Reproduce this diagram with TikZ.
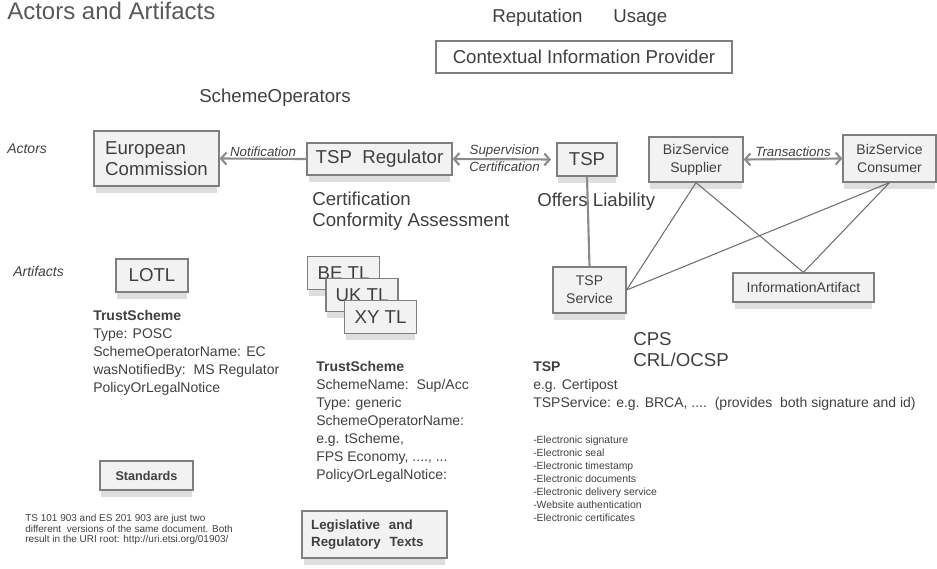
\documentclass[tikz,border=0pt]{standalone}
\usepackage{fontspec}
\setmainfont{Liberation Sans}
\usetikzlibrary{arrows.meta, shadows}

\definecolor{boxfill}{HTML}{F2F2F2}
\definecolor{boxline}{HTML}{7F7F7F}
\definecolor{txt}{HTML}{404040}
\definecolor{flowline}{HTML}{8C8C8C}

\tikzset{
  actor/.style={draw=boxline, fill=boxfill, line width=0.9pt, inner sep=0pt, text=txt,
    drop shadow={shadow xshift=0pt, shadow yshift=-6pt, shadow scale=0.97, fill=black, opacity=0.13}},
  flow/.style={draw=flowline, line width=1.6pt, >={Straight Barb[length=4pt, width=9pt]}},
  link/.style={draw=flowline!80!black, line width=0.8pt},
  relabel/.style={font=\fontsize{10}{12}\selectfont\itshape, text=txt, inner sep=1pt},
  rowlabel/.style={anchor=base west, inner sep=0pt, font=\fontsize{10.5}{12}\selectfont\itshape, text=txt},
  bigtext/.style={font=\fontsize{14}{15.75}\selectfont, text=txt},
  smalltext/.style={font=\fontsize{10.5}{13.5}\selectfont, text=txt},
  note/.style={anchor=north west, inner sep=0pt, align=left},
}

\begin{document}
\begin{tikzpicture}[x=0.75pt, y=-0.75pt]
  \useasboundingbox (0,0) rectangle (937,568);

  % Title and header
  \node[anchor=base west, inner sep=0pt, text=black!65, font=\fontsize{18}{20}\selectfont] (title) at (7,19) {Actors and Artifacts};
  \node[anchor=base west, inner sep=0pt, bigtext] (reputation) at (492,22) {Reputation};
  \node[anchor=base west, inner sep=0pt, bigtext] (usage) at (613,22) {Usage};
  \node[draw=boxline, line width=0.9pt, bigtext, minimum width=222pt, minimum height=24pt] (cip) at (584,57) {Contextual Information Provider};
  \node[anchor=base west, inner sep=0pt, bigtext] (schemeops) at (199,102) {SchemeOperators};

  % Row labels
  \node[rowlabel] (actors) at (7,153) {Actors};
  \node[rowlabel] (artifacts) at (13,276) {Artifacts};

  % Actors
  \node[actor, bigtext, align=left, minimum width=93.75pt, minimum height=41.25pt] (ec) at (156.5,158.5) {European\\Commission};
  \node[actor, bigtext, minimum width=108.75pt, minimum height=24pt] (reg) at (379.5,159) {TSP\ \ Regulator};
  \node[actor, bigtext, minimum width=45pt, minimum height=24.75pt] (tsp) at (587,159.5) {TSP};
  \node[actor, smalltext, align=center, minimum width=70.5pt, minimum height=33.75pt] (supplier) at (696,159.5) {BizService\\Supplier};
  \node[actor, smalltext, align=center, minimum width=69.75pt, minimum height=35.25pt] (consumer) at (889.5,158.5) {BizService\\Consumer};
  \node[actor, smalltext, align=center, minimum width=54.75pt, minimum height=34.5pt] (tspsvc) at (589.5,290) {TSP\\Service};
  \node[actor, smalltext, minimum width=105.75pt, minimum height=21.75pt] (infoart) at (803.5,287.5) {InformationArtifact};

  % Relations between actors
  \draw[flow, ->] (reg.west) -- node[relabel, above] (notif) {Notification} (ec.east);
  \draw[flow, <->, shorten >=4pt] (reg.east) -- node[relabel, above] (superv) {Supervision}
    node[relabel, below] (certif) {Certification} (tsp.west);
  \draw[flow, <->] (supplier.east) -- node[relabel, above] (trans) {Transactions} (consumer.west);
  \draw[flow] (tsp.south) -- (tspsvc.north);
  \draw[link] (supplier.south) -- (tspsvc.east);
  \draw[link] (supplier.south) -- (infoart.north);
  \draw[link] (consumer.south) -- (tspsvc.east);
  \draw[link] (consumer.south) -- (infoart.north);

  % Annotations
  \node[note, bigtext] (certnote) at (312,192) {Certification\\Conformity Assessment};
  \node[note, bigtext] (liability) at (537,193) {Offers Liability};
  \node[note, bigtext] (cps) at (633,332) {CPS\\CRL/OCSP};

  % Artifacts
  \node[actor, bigtext, minimum width=54pt, minimum height=24.75pt] (lotl) at (152,275.5) {LOTL};
  \foreach \lab [count=\i] in {BE TL, UK TL, XY TL}
    \node[actor, bigtext, minimum width=54pt, minimum height=24.25pt] (tl\i) at ({343.5+18.5*(\i-1)}, {273+22*(\i-1)}) {\lab};

  \node[note, smalltext] (lotlinfo) at (93,310) {\textbf{TrustScheme}\\Type: POSC\\SchemeOperatorName: EC\\wasNotifiedBy:\ \ MS Regulator\\PolicyOrLegalNotice};
  \node[note, smalltext] (tlinfo) at (316,361) {\textbf{TrustScheme}\\SchemeName:\ \ Sup/Acc\\Type: generic\\SchemeOperatorName:\\e.g. tScheme,\\FPS Economy, ...., ...\\PolicyOrLegalNotice:};
  \node[note, smalltext] (tspinfo) at (533,361) {\textbf{TSP}\\e.g. Certipost\\TSPService: e.g. BRCA, ....\ \ (provides\ \ both signature and id)};
  \node[note, text=txt, font=\fontsize{7.8}{9.75}\selectfont] (servicelist) at (533,436) {-Electronic signature\\-Electronic seal\\-Electronic timestamp\\-Electronic documents\\-Electronic delivery service\\-Website authentication\\-Electronic certificates};

  % Standards and legislation
  \node[actor, font=\bfseries\fontsize{9.5}{11}\selectfont, minimum width=69.75pt, minimum height=21.75pt] (standards) at (146.5,475.5) {Standards};
  \node[note, text=txt, font=\fontsize{7.5}{8}\selectfont] (stdnote) at (25,514) {TS 101 903 and ES 201 903 are just two\\different\ \ versions of the same document. Both\\result in the URI root: http://uri.etsi.org/01903/};
  \node[actor, align=left, font=\bfseries\fontsize{10}{13}\selectfont, text width=95pt, inner xsep=6.875pt, minimum height=35.25pt] (legis) at (374.5,534.5) {Legislative\ \ and\\Regulatory\ \ Texts};
\end{tikzpicture}
\end{document}
